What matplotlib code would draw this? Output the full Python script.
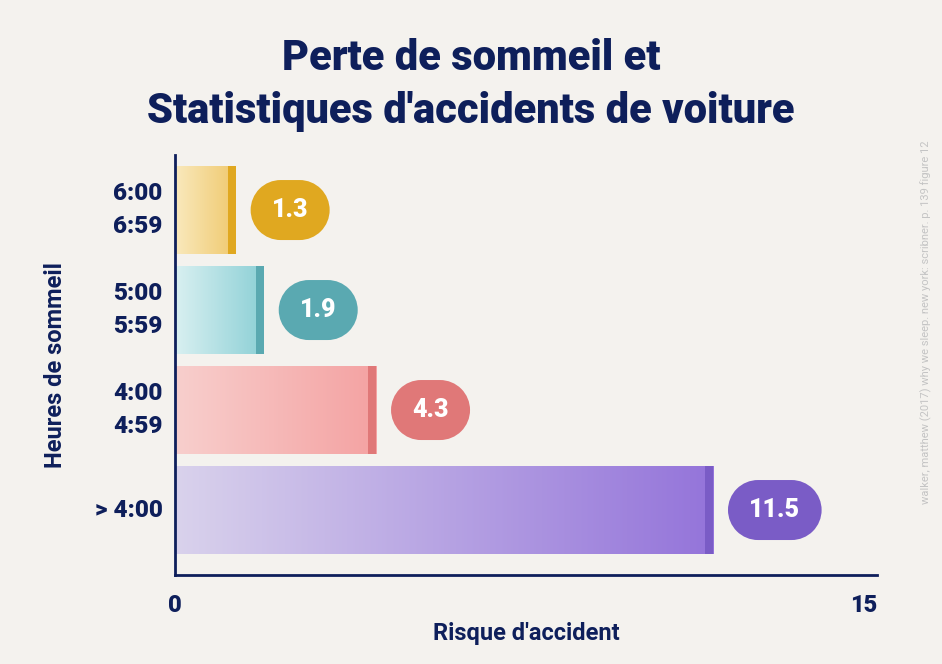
import numpy as np
import matplotlib.pyplot as plt
from matplotlib.colors import LinearSegmentedColormap
from matplotlib.path import Path

# ── data ────────────────────────────────────────────────────────────────
categories = ["6:00\n6:59", "5:00\n5:59", "4:00\n4:59", "> 4:00"]
risk = [1.3, 1.9, 4.3, 11.5]
value_labels = ["1.3", "1.9", "4.3", "11.5"]

# ── palette ─────────────────────────────────────────────────────────────
BG = "#f4f2ee"
NAVY = "#0e1f5b"
GRAD_LEFT = ["#f9e9bd", "#d9f0f1", "#f8cfcd", "#d9d2ec"]
GRAD_RIGHT = ["#f0c96e", "#8dd0d6", "#f4a2a2", "#9474da"]
CAP = ["#e0a820", "#5aa9b1", "#e07878", "#7a5cc6"]

FONT = "Roboto"
HEAVY = "black"


def pill(x0, y0, width, height, mutation_size):
    """Stadium shaped box (fully rounded ends) for the value labels."""
    pad_x = 0.85 * mutation_size
    pad_y = 0.72 * mutation_size
    x0, y0 = x0 - pad_x, y0 - pad_y
    width, height = width + 2 * pad_x, height + 2 * pad_y
    r = height / 2
    right = Path.arc(-90, 90)
    left = Path.arc(90, 270)
    v_r = right.vertices * r + [x0 + width - r, y0 + r]
    v_l = left.vertices * r + [x0 + r, y0 + r]
    codes_l = left.codes.copy()
    codes_l[0] = Path.LINETO
    verts = np.concatenate([v_r, v_l, [v_r[0]], [v_r[0]]])
    codes = np.concatenate([right.codes, codes_l, [Path.LINETO, Path.CLOSEPOLY]])
    return Path(verts, codes)


fig = plt.figure(figsize=(9.42, 6.64), dpi=100, facecolor=BG)
ax = fig.add_axes([0.1858, 0.134, 0.7452, 0.6325])
ax.set_facecolor(BG)

y = np.arange(len(categories))
bar_h = 0.88
cap_w = 0.17

bars = ax.barh(y, risk, height=bar_h, color="none", edgecolor="none", zorder=2)
for i, b in enumerate(bars):
    cmap = LinearSegmentedColormap.from_list(f"g{i}", [GRAD_LEFT[i], GRAD_RIGHT[i]])
    grad = np.linspace(0, 1, 256).reshape(1, -1)
    x0, y0 = b.get_x(), b.get_y()
    w, h = b.get_width(), b.get_height()
    im = ax.imshow(grad, cmap=cmap, aspect="auto", extent=(x0, x0 + w, y0 + h, y0),
                   zorder=2, interpolation="bicubic")
    im.set_clip_path(b)

# darker end caps
ax.barh(y, [cap_w] * len(risk), left=[r - cap_w for r in risk], height=bar_h,
        color=CAP, edgecolor="none", zorder=3)

# pill value labels
for i, r in enumerate(risk):
    ax.text(r + 0.77, y[i], value_labels[i], ha="left", va="center",
            fontsize=18, fontweight="heavy", color="white", family=FONT,
            bbox=dict(boxstyle=pill, fc=CAP[i], ec="none"), zorder=4)

ax.set_xlim(0, 15)
ax.set_ylim(3.65, -0.55)

ax.set_yticks(y)
ax.set_yticklabels(categories, fontsize=17.5, fontweight=HEAVY, color=NAVY,
                   family=FONT, linespacing=1.6, va="center")
ax.set_xticks([0, 15])
ax.set_xticklabels(["0", "15"], fontsize=17, fontweight=HEAVY, color=NAVY, family=FONT)
ax.get_xticklabels()[1].set_horizontalalignment("right")
ax.tick_params(axis="both", length=0)
ax.tick_params(axis="y", pad=9)
ax.tick_params(axis="x", pad=14)

for s in ["top", "right"]:
    ax.spines[s].set_visible(False)
for s in ["left", "bottom"]:
    ax.spines[s].set_color(NAVY)
    ax.spines[s].set_linewidth(2)

ax.set_xlabel("Risque d'accident", fontsize=17, fontweight="bold", color=NAVY,
              family=FONT, labelpad=3)
ax.set_ylabel("Heures de sommeil", fontsize=17, fontweight="bold", color=NAVY,
              family=FONT, labelpad=20)

fig.text(0.5, 0.912, "Perte de sommeil et", ha="center", va="center",
         fontsize=30, fontweight=HEAVY, color=NAVY, family=FONT)
fig.text(0.5, 0.832, "Statistiques d'accidents de voiture", ha="center", va="center",
         fontsize=30, fontweight=HEAVY, color=NAVY, family=FONT)

fig.text(0.983, 0.515,
         "walker, matthew (2017) why we sleep. new york: scribner. p. 139 figure 12",
         rotation=90, ha="center", va="center", fontsize=8, color="#c4c4c4",
         family=FONT)

fig.savefig("out.png", dpi=100, facecolor=BG)
